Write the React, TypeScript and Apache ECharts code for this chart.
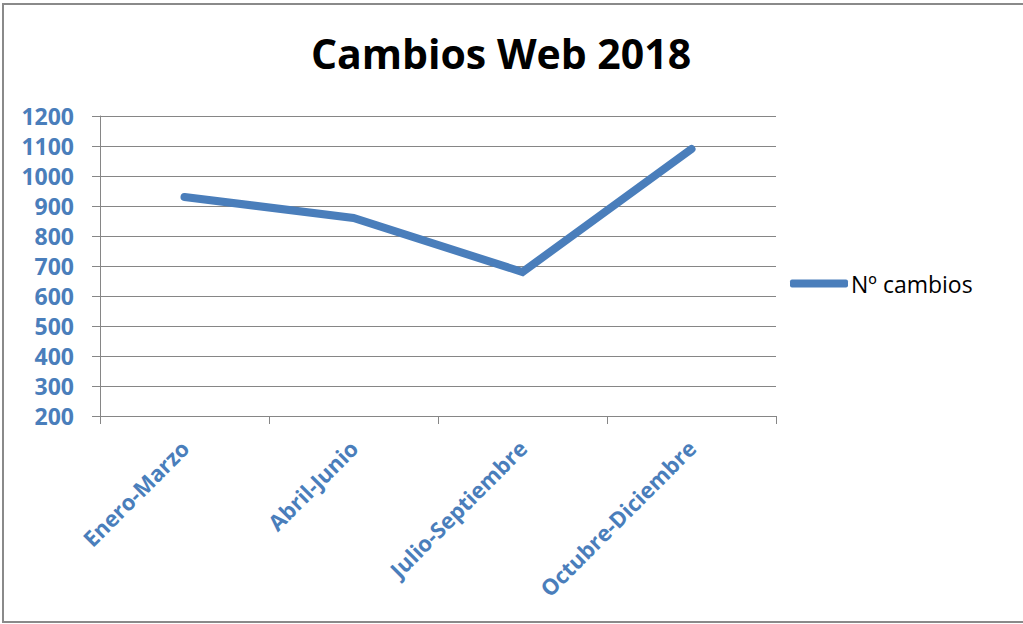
import React, { useEffect, useRef } from "react";
import * as echarts from "echarts";

const categories = ["Enero-Marzo", "Abril-Junio", "Julio-Septiembre", "Octubre-Diciembre"];
const cambios = [930, 860, 680, 1090];
const seriesName = "Nº cambios";
const chartTitle = "Cambios Web 2018";

export default function App() {
  const ref = useRef<HTMLDivElement>(null);
  useEffect(() => {
    if (!ref.current) return;
    const chart = echarts.init(ref.current, undefined, { renderer: "svg" });
    const blue = "#4A7EBB";
    const gray = "#868686";
    chart.setOption({
      animation: false,
      backgroundColor: "#ffffff",
      title: {
        text: chartTitle,
        left: 496,
        top: 27,
        textAlign: "center",
        textStyle: { fontFamily: "Open Sans", fontWeight: "bold", fontSize: 41, color: "#000" },
      },
      legend: {
        left: 790,
        top: 272,
        padding: 0,
        orient: "vertical",
        icon: "roundRect",
        itemWidth: 58,
        itemHeight: 8,
        itemGap: 0,
        textStyle: { fontFamily: "Open Sans", fontSize: 23, color: "#000", padding: [0, 0, 0, -2] },
        data: [seriesName],
      },
      grid: { left: 100, right: 247, top: 116, bottom: 208 },
      xAxis: {
        type: "category",
        data: categories,
        boundaryGap: true,
        axisLine: { lineStyle: { color: gray, width: 1 } },
        axisTick: { show: true, length: 8, lineStyle: { color: gray } },
        axisLabel: {
          rotate: 45,
          margin: 28,
          color: blue,
          fontFamily: "Open Sans",
          fontWeight: "bold",
          fontSize: 22,
          interval: 0,
        },
        splitLine: { show: false },
      },
      yAxis: {
        type: "value",
        min: 200,
        max: 1200,
        interval: 100,
        axisLine: { show: true, lineStyle: { color: gray, width: 1 } },
        axisTick: { show: true, length: 8, lineStyle: { color: gray } },
        axisLabel: {
          margin: 26,
          color: blue,
          fontFamily: "Open Sans",
          fontWeight: "bold",
          fontSize: 23,
          formatter: (v: number) => String(v),
        },
        splitLine: { show: true, lineStyle: { color: gray, width: 1 } },
      },
      series: [
        {
          name: seriesName,
          type: "line",
          data: cambios,
          symbol: "none",
          lineStyle: { color: blue, width: 8, cap: "round", join: "miter" },
          itemStyle: { color: blue },
        },
      ],
      graphic: [
        {
          type: "rect",
          shape: { x: 3, y: 4, width: 1040, height: 618 },
          style: { fill: "none", stroke: "#8a8a8a", lineWidth: 2 },
          silent: true,
        },
      ],
    });
    return () => chart.dispose();
  }, []);
  return (
    <div
      ref={ref}
      style={{ position: "absolute", left: 0, top: 0, width: 1023, height: 624 }}
    />
  );
}
